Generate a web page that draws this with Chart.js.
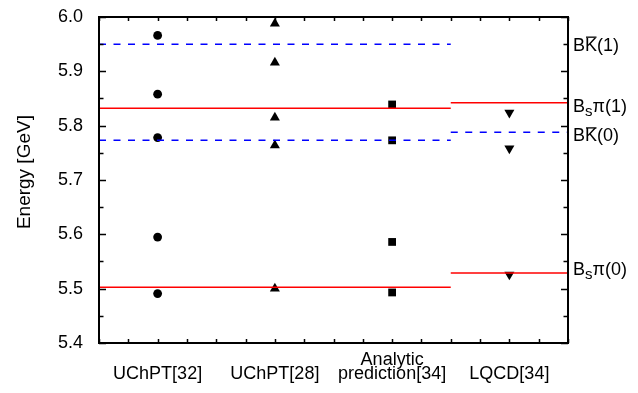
<!DOCTYPE html>
<html>
<head>
<meta charset="utf-8">
<script src="https://cdn.jsdelivr.net/npm/chart.js@4.4.0/dist/chart.umd.min.js"></script>
<style>
  html, body { margin: 0; padding: 0; background: #fff; }
</style>
</head>
<body>
<canvas id="energyChart" width="638" height="393"></canvas>
<script>
// Category labels (first line blank so single labels sit on the second row)
const categories = [['', 'UChPT[32]'], ['', 'UChPT[28]'], ['Analytic', 'prediction[34]'], ['', 'LQCD[34]']];
const catPositions = [0.5, 1.5, 2.5, 3.5];

// Energy levels [GeV] per calculation
const uchpt32 = [5.966, 5.858, 5.778, 5.595, 5.491];
const uchpt28 = [5.988, 5.916, 5.815, 5.764, 5.500];
const analytic = [5.839, 5.773, 5.586, 5.493];
const lqcd = [5.824, 5.758, 5.526];

// Threshold lines: physical (first three columns) and lattice (LQCD column)
const physSpan = [0, 3];
const latSpan = [3, 4];
const physBsPi = [5.5025, 5.832];
const physBK = [5.773, 5.950];
const latBsPi = [5.529, 5.842];
const latBK = [5.788];

// Threshold labels on the right
const thrNames = ['BK(1)', 'Bsπ(1)', 'BK(0)', 'Bsπ(0)'];
const thrValues = [5.950, 5.838, 5.783, 5.537];

const yMin = 5.4, yMax = 6.0, yStep = 0.1;

const FONT = '"Liberation Sans", Arial, sans-serif';

function pts(xs, vals) {
    return vals.map(v => ({ x: xs, y: v }));
}

function levelLine(span, v, color, dash) {
    return {
        type: 'line',
        data: [{ x: span[0], y: v }, { x: span[1], y: v }],
        borderColor: color,
        borderWidth: 1.5,
        borderDash: dash,
        pointRadius: 0,
        showLine: true,
        fill: false
    };
}

const datasets = [];
physBsPi.forEach(v => datasets.push(levelLine(physSpan, v, '#ff0000', [])));
physBK.forEach(v => datasets.push(levelLine(physSpan, v, '#0000ff', [7, 7.5])));
latBsPi.forEach(v => datasets.push(levelLine(latSpan, v, '#ff0000', [])));
latBK.forEach(v => datasets.push(levelLine(latSpan, v, '#0000ff', [7, 7.5])));

datasets.push({ data: pts(catPositions[0], uchpt32), pointStyle: 'circle', pointRadius: 4.4, backgroundColor: '#000', borderWidth: 0 });
datasets.push({ data: pts(catPositions[1], uchpt28), pointStyle: 'triangle', pointRadius: 5.8, backgroundColor: '#000', borderWidth: 0 });
datasets.push({ data: pts(catPositions[2], analytic), pointStyle: 'rect', pointRadius: 5.5, backgroundColor: '#000', borderWidth: 0 });
datasets.push({ data: pts(catPositions[3], lqcd), pointStyle: 'triangle', rotation: 180, pointRadius: 5.8, backgroundColor: '#000', borderWidth: 0 });

// Frame, inward ticks and right-hand threshold labels
const framePlugin = {
    id: 'frame',
    afterDraw(chart) {
        const ctx = chart.ctx;
        const a = chart.chartArea;
        const xs = chart.scales.x;
        const ys = chart.scales.y;
        ctx.save();
        ctx.strokeStyle = '#000';
        ctx.lineWidth = 1.5;
        // y ticks (both sides)
        for (let i = 0; i <= Math.round((yMax - yMin) / 0.05); i++) {
            const py = Math.round(ys.getPixelForValue(yMin + i * 0.05)) + 0.5;
            const len = i % 2 === 0 ? 7 : 4.5;
            ctx.beginPath();
            ctx.moveTo(a.left, py); ctx.lineTo(a.left + len, py);
            ctx.moveTo(a.right, py); ctx.lineTo(a.right - len, py);
            ctx.stroke();
        }
        // x ticks (top and bottom)
        for (let i = 0; i <= 16; i++) {
            const px = Math.round(xs.getPixelForValue(i * 0.25)) + 0.5;
            ctx.beginPath();
            ctx.moveTo(px, a.bottom); ctx.lineTo(px, a.bottom - 4);
            ctx.moveTo(px, a.top); ctx.lineTo(px, a.top + 4);
            ctx.stroke();
        }
        ctx.lineWidth = 2;
        ctx.strokeRect(a.left, a.top, a.right - a.left, a.bottom - a.top);

        // labels
        ctx.fillStyle = '#000';
        ctx.textBaseline = 'alphabetic';
        thrNames.forEach((name, i) => {
            const cy = ys.getPixelForValue(thrValues[i]);
            const base = cy + 6.5;
            let x = a.right + 5;
            ctx.font = '18px ' + FONT;
            ctx.fillText('B', x, base);
            x += ctx.measureText('B').width;
            if (name.indexOf('s') === 1) {
                ctx.font = '15px ' + FONT;
                ctx.fillText('s', x, base + 4.4);
                x += ctx.measureText('s').width;
                ctx.font = '18px ' + FONT;
                ctx.fillText(name.slice(2), x, base);
            } else {
                const kw = ctx.measureText('K').width;
                ctx.fillText('K', x, base);
                ctx.lineWidth = 1.3;
                ctx.beginPath();
                ctx.moveTo(x + 1, base - 13.5);
                ctx.lineTo(x + kw - 0.5, base - 13.5);
                ctx.stroke();
                x += kw;
                ctx.fillText(name.slice(2), x, base);
            }
        });
        ctx.restore();
    }
};

new Chart(document.getElementById('energyChart'), {
    type: 'scatter',
    data: { datasets: datasets },
    options: {
        responsive: false,
        animation: false,
        layout: { padding: { left: 0, right: 70, top: 17, bottom: 0 } },
        plugins: {
            legend: { display: false },
            tooltip: { enabled: false }
        },
        scales: {
            x: {
                type: 'linear',
                min: 0,
                max: 4,
                border: { display: false },
                grid: { display: false, drawTicks: false },
                afterBuildTicks: scale => { scale.ticks = catPositions.map(v => ({ value: v })); },
                afterFit: scale => {
                    scale.height = 50;
                    scale.paddingLeft = 0;
                    scale.paddingRight = 0;
                },
                ticks: {
                    padding: 10,
                    color: '#000',
                    maxRotation: 0,
                    font: { family: FONT, size: 18, lineHeight: 0.78 },
                    callback: v => categories[catPositions.indexOf(v)]
                }
            },
            y: {
                min: yMin,
                max: yMax,
                border: { display: false },
                grid: { display: false, drawTicks: false },
                afterFit: scale => {
                    scale.width = 99;
                    scale.paddingTop = 0;
                    scale.paddingBottom = 0;
                },
                ticks: {
                    stepSize: yStep,
                    padding: 16,
                    color: '#000',
                    font: { family: FONT, size: 18 },
                    callback: v => v.toFixed(1)
                },
                title: {
                    display: true,
                    text: '\u00a0\u00a0\u00a0Energy [GeV]',
                    color: '#000',
                    font: { family: FONT, size: 19 },
                    padding: { top: 13, bottom: 0 }
                }
            }
        }
    },
    plugins: [framePlugin]
});
</script>
</body>
</html>
